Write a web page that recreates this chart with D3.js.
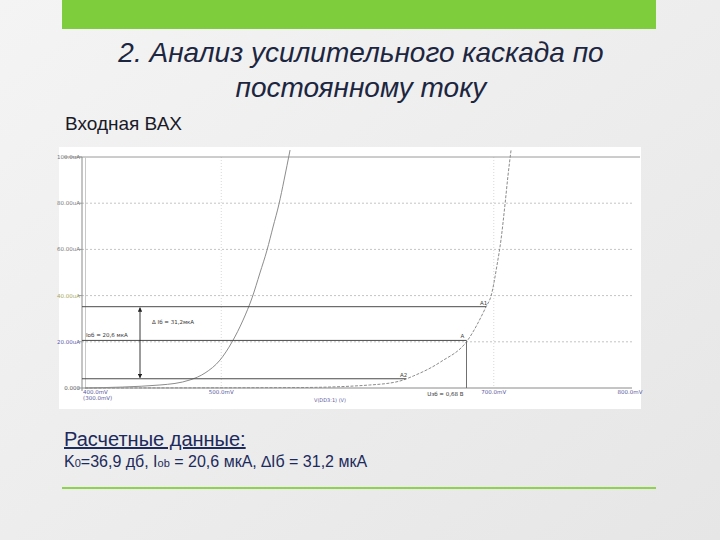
<!DOCTYPE html>
<html><head><meta charset="utf-8">
<script src="https://cdn.jsdelivr.net/npm/d3@7/dist/d3.min.js"></script>
<style>
html,body{margin:0;padding:0;}
body{width:720px;height:540px;overflow:hidden;}
</style></head>
<body>
<svg id="c" width="720" height="540"></svg>
<script>
// ---- data ----
const yTickValues = [0, 20, 40, 60, 80, 100];            // uA
const yTickLabels = ["0.000", "20.00uA", "40.00uA", "60.00uA", "80.00uA", "100.0uA"];
const xTickValues = [400, 500, 700, 800];                 // mV
const xTickLabels = ["400.0mV", "500.0mV", "700.0mV", "800.0mV"];
const xGridValues = [500, 700];
// curve 1 (left), mV vs uA
const curve1V = [400, 455, 477.1, 488.1, 499.1, 507.9, 516.0, 522.6, 528.4, 533.6, 538.0, 542.4, 546.1, 550.5];
const curve1I = [0, 1.3, 3.5, 6.5, 12.1, 19.9, 29.4, 39.0, 49.8, 59.7, 69.7, 79.7, 90.0, 103];
// curve 2 (right), mV vs uA
const curve2V = [400, 558, 609, 631, 641, 661, 681, 694.3, 698.0, 702.4, 705.3, 708.3, 710.5, 712.7];
const curve2I = [0, 0.2, 1.3, 3.0, 5.2, 11.3, 20.8, 35.1, 39.8, 53.2, 64.1, 79.7, 92.2, 103];
// operating point
const Ueb = 680;          // mV
const Iob = 20.6;         // uA
const IbHigh = 35.2;      // uA
const IbLow = 4.0;        // uA
const pointNames = ["A1", "A", "A2"];

const svg = d3.select("#c");

// background
const defs = svg.append("defs");
const g0 = defs.append("linearGradient").attr("id","bg").attr("x1","0").attr("y1","0").attr("x2","1").attr("y2","1");
g0.append("stop").attr("offset","0").attr("stop-color","#f4f4f4");
g0.append("stop").attr("offset","1").attr("stop-color","#e6e6e6");
svg.append("rect").attr("width",720).attr("height",540).attr("fill","url(#bg)");

// top green bar
svg.append("rect").attr("x",62).attr("y",0).attr("width",594).attr("height",29).attr("fill","#7dcd3c");

// title
const title = svg.append("text").attr("text-anchor","middle")
  .attr("font-family","Liberation Sans, Arial, sans-serif").attr("font-style","italic")
  .attr("font-size",28).attr("fill","#1d2640");
title.append("tspan").attr("x",361).attr("y",62).text("2. Анализ усилительного каскада по");
title.append("tspan").attr("x",361).attr("y",97).text("постоянному току");

svg.append("text").attr("x",65).attr("y",130)
  .attr("font-family","Liberation Sans, Arial, sans-serif").attr("font-size",19).attr("fill","#1a1a28")
  .text("Входная ВАХ");

// chart panel
svg.append("rect").attr("x",59).attr("y",147).attr("width",582).attr("height",262).attr("fill","#ffffff");

const x = d3.scaleLinear().domain([400, 800]).range([85, 630]);
const y = d3.scaleLinear().domain([0, 100]).range([388, 157]);

const plot = svg.append("g");
defs.append("clipPath").attr("id","clip").append("rect").attr("x",82).attr("y",148).attr("width",556).attr("height",242);

// grid lines horizontal
plot.selectAll("line.hg").data(yTickValues.filter(v => v > 0 && v < 100)).join("line")
  .attr("x1",82).attr("x2",632).attr("y1",d=>y(d)).attr("y2",d=>y(d))
  .attr("stroke","#c4c4c4").attr("stroke-width",1).attr("stroke-dasharray","2,2");
// vertical grid
plot.selectAll("line.vg").data(xGridValues).join("line")
  .attr("x1",d=>x(d)).attr("x2",d=>x(d)).attr("y1",y(100)).attr("y2",y(0))
  .attr("stroke","#d8d8d8").attr("stroke-width",1).attr("stroke-dasharray","1,2");

// top border line
plot.append("line").attr("x1",64).attr("x2",640).attr("y1",y(100)).attr("y2",y(100)).attr("stroke","#9a9a9a");
// left axis (double)
plot.append("line").attr("x1",82).attr("x2",82).attr("y1",y(100)).attr("y2",y(0)+3).attr("stroke","#8a8a8a");
plot.append("line").attr("x1",85.5).attr("x2",85.5).attr("y1",y(100)).attr("y2",y(0)).attr("stroke","#c8c8c8");
// bottom axis
plot.append("line").attr("x1",82).attr("x2",632).attr("y1",y(0)).attr("y2",y(0)).attr("stroke","#8a8a8a");

// y tick labels
const yColors = ["#555","#5a5aa8","#a8a860","#777","#777","#777"];
plot.selectAll("text.yt").data(yTickValues).join("text")
  .attr("x",80).attr("y",d=>y(d)+2).attr("text-anchor","end")
  .attr("font-family","DejaVu Sans, sans-serif").attr("font-size",5.5)
  .attr("fill",(d,i)=>yColors[i]).text((d,i)=>yTickLabels[i]);
plot.selectAll("line.ytk").data(yTickValues).join("line")
  .attr("x1",78).attr("x2",82).attr("y1",d=>y(d)).attr("y2",d=>y(d)).attr("stroke","#999");

// x tick labels
plot.selectAll("text.xt").data(xTickValues).join("text")
  .attr("x",(d,i)=> i===0 ? x(d)-2 : x(d)).attr("y",y(0)+6)
  .attr("text-anchor",(d,i)=> i===0 ? "start" : "middle")
  .attr("font-family","DejaVu Sans, sans-serif").attr("font-size",5.5)
  .attr("fill","#5a5aa0").text((d,i)=>xTickLabels[i]);
plot.append("text").attr("x",x(400)-2).attr("y",y(0)+12)
  .attr("font-family","DejaVu Sans, sans-serif").attr("font-size",5.5).attr("fill","#5a5aa0").text("(300.0mV)");
plot.append("text").attr("x",330).attr("y",y(0)+14).attr("text-anchor","middle")
  .attr("font-family","DejaVu Sans, sans-serif").attr("font-size",5).attr("fill","#5a5aa0").text("V(DD3:1) (V)");

// curves
const line = d3.line().x(d=>x(d[0])).y(d=>y(d[1])).curve(d3.curveMonotoneX);
const c1 = curve1V.map((v,i)=>[v, curve1I[i]]);
const c2 = curve2V.map((v,i)=>[v, curve2I[i]]);
const cg = plot.append("g").attr("clip-path","url(#clip)");
cg.append("path").attr("d",line(c1)).attr("fill","none").attr("stroke","#8c8c8c").attr("stroke-width",1);
cg.append("path").attr("d",line(c2)).attr("fill","none").attr("stroke","#8c8c8c").attr("stroke-width",1).attr("stroke-dasharray","3,1.5");

// find x on curve2 for given current (linear interp on data)
function vAt(I){
  for(let i=1;i<c2.length;i++){
    if(c2[i][1]>=I){
      const a=c2[i-1], b=c2[i];
      return a[0]+(b[0]-a[0])*(I-a[1])/(b[1]-a[1]);
    }
  }
  return c2[c2.length-1][0];
}
const levels = [IbHigh, Iob, IbLow];
const lvX = [vAt(IbHigh), Ueb, vAt(IbLow)];
plot.selectAll("line.lv").data(levels).join("line")
  .attr("x1",82).attr("x2",(d,i)=>x(lvX[i])).attr("y1",d=>y(d)).attr("y2",d=>y(d))
  .attr("stroke","#4a4a4a").attr("stroke-width",1);
// vertical at Ueb
plot.append("line").attr("x1",x(Ueb)).attr("x2",x(Ueb)).attr("y1",y(Iob)).attr("y2",y(0))
  .attr("stroke","#707070").attr("stroke-width",1);
// point labels
plot.selectAll("text.pn").data(levels).join("text")
  .attr("x",(d,i)=>x(lvX[i])-6).attr("y",d=>y(d)-2)
  .attr("font-family","DejaVu Sans, sans-serif").attr("font-size",5.5).attr("fill","#444")
  .text((d,i)=>pointNames[i]);

// arrow
defs.append("marker").attr("id","ah").attr("viewBox","0 0 10 10").attr("refX",9).attr("refY",5)
  .attr("markerWidth",5).attr("markerHeight",5).attr("orient","auto-start-reverse")
  .append("path").attr("d","M0,0 L10,5 L0,10 z").attr("fill","#222");
plot.append("line").attr("x1",140).attr("x2",140).attr("y1",y(IbHigh)+1).attr("y2",y(IbLow)-1)
  .attr("stroke","#222").attr("stroke-width",0.9)
  .attr("marker-start","url(#ah)").attr("marker-end","url(#ah)");
plot.append("text").attr("x",152).attr("y",y(IbHigh)+17)
  .attr("font-family","DejaVu Sans, sans-serif").attr("font-size",5.5).attr("fill","#333")
  .text("Δ Iб = 31,2мкА");
plot.append("text").attr("x",86).attr("y",y(Iob)-3)
  .attr("font-family","DejaVu Sans, sans-serif").attr("font-size",5.5).attr("fill","#333")
  .text("Iоб = 20,6 мкА");
plot.append("text").attr("x",x(Ueb)-3).attr("y",y(0)+8).attr("text-anchor","end")
  .attr("font-family","DejaVu Sans, sans-serif").attr("font-size",5.5).attr("fill","#333")
  .text("Uэб = 0,68 В");

// bottom text
svg.append("text").attr("x",64).attr("y",446)
  .attr("font-family","Liberation Sans, Arial, sans-serif").attr("font-size",20).attr("fill","#1c2a5c")
  .attr("text-decoration","underline").text("Расчетные данные:");
const t2 = svg.append("text").attr("x",64).attr("y",467)
  .attr("font-family","Liberation Sans, Arial, sans-serif").attr("font-size",16).attr("fill","#1c2a5c");
t2.append("tspan").text("K");
t2.append("tspan").attr("font-size",11).text("0");
t2.append("tspan").text("=36,9 дб, I");
t2.append("tspan").attr("font-size",11).text("ob");
t2.append("tspan").text(" = 20,6 мкА, ∆Iб = 31,2 мкА");

svg.append("rect").attr("x",62).attr("y",487).attr("width",594).attr("height",2).attr("fill","#8ed24e");
</script>
</body></html>
